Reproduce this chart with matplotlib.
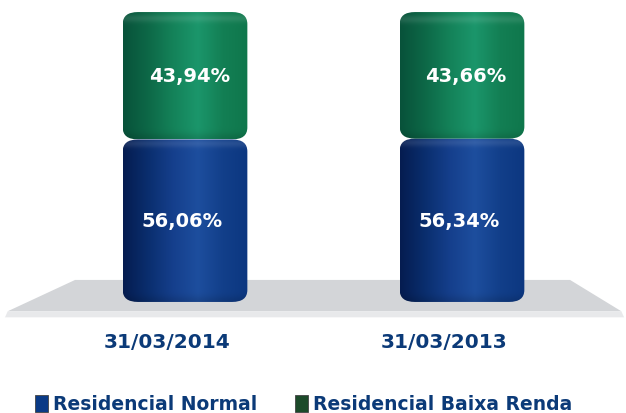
import numpy as np
import matplotlib
matplotlib.use("Agg")
import matplotlib.pyplot as plt
from matplotlib.patches import FancyBboxPatch, Polygon, Rectangle
from matplotlib.colors import LinearSegmentedColormap

# data
dates = ["31/03/2014", "31/03/2013"]
normal = [56.06, 56.34]
baixa = [43.94, 43.66]
series_names = ["Residencial Normal", "Residencial Baixa Renda"]

W, H = 626, 414
fig = plt.figure(figsize=(W / 100, H / 100), dpi=100)
ax = fig.add_axes([0, 0, 1, 1])
ax.set_xlim(-0.668, 1.592)
ax.set_ylim(-38.3, 104.5)
ax.axis("off")

# floor (top face + thin front edge)
floor = Polygon([(-0.397, 7.6), (1.39, 7.6), (1.575, -3.2), (-0.640, -3.2)],
                closed=True, facecolor="#D3D5D8", edgecolor="none", zorder=1)
ax.add_patch(floor)
front = Polygon([(-0.640, -3.2), (1.575, -3.2), (1.585, -5.3), (-0.650, -5.3)],
                closed=True, facecolor="#E8E9EB", edgecolor="none", zorder=1)
ax.add_patch(front)

blue_cmap = LinearSegmentedColormap.from_list(
    "b", ["#051C50", "#0A2E6E", "#153F8C", "#1D4E9E", "#123F8A", "#0C3780"])
green_cmap = LinearSegmentedColormap.from_list(
    "g", ["#08523A", "#0D6847", "#148259", "#1B966B", "#137F54", "#0F774C"])

width = 0.45
x = np.arange(len(dates))
bars_n = ax.bar(x, normal, width, color="none", zorder=2)
bars_b = ax.bar(x, baixa, width, bottom=normal, color="none", zorder=2)

ny, nx = 200, 256
u = np.linspace(0, 1, nx)


def shaded(cmap, h, dome):
    rgb = cmap(u)[:, :3][None, :, :].repeat(ny, axis=0)
    # distance from top of the segment in pixels (2.9 px per unit)
    d = np.linspace(0, h * 2.9, ny)[:, None]
    light = 0.10 * np.exp(-((d - (7 if dome else 4)) / 4.0) ** 2)
    dark = 0.12 * np.exp(-((d - h * 2.9) / 6.0) ** 2)
    rgb = rgb + light[..., None] * (1 - rgb) - dark[..., None] * rgb
    return np.clip(rgb, 0, 1)


for bars, cmap, dome, dx in [(bars_n, blue_cmap, False, -0.01),
                             (bars_b, green_cmap, True, 0.015)]:
    for r in bars:
        x0, y0, w, h = r.get_x(), r.get_y(), r.get_width(), r.get_height()
        patch = FancyBboxPatch((x0, y0), w, h,
                               boxstyle="round,pad=0,rounding_size=0.055",
                               mutation_aspect=75, facecolor="none",
                               edgecolor="none", zorder=3)
        ax.add_patch(patch)
        im = ax.imshow(shaded(cmap, h, dome), aspect="auto", origin="upper",
                       extent=(x0, x0 + w, y0, y0 + h), zorder=3,
                       interpolation="bilinear")
        im.set_clip_path(patch)
        ax.text(x0 + w / 2 + dx, y0 + h / 2, f"{h:.2f}%".replace(".", ","),
                ha="center", va="center", color="white", fontsize=14,
                fontweight="bold", zorder=5)

for xi, d in zip(x, dates):
    ax.text(xi - 0.065, -13.5, d, ha="center", va="center", color="#0B3A78",
            fontsize=14.5, fontweight="bold")

# legend along the bottom
leg_cols = ["#0A3A86", "#1C4A2A"]
leg_x = [35, 295]
for lx, col, name in zip(leg_x, leg_cols, series_names):
    fig.patches.append(Rectangle((lx / W, 1 - 413 / H), 13 / W, 17 / H,
                                 transform=fig.transFigure, facecolor=col,
                                 edgecolor="#444444", linewidth=0.6))
    fig.text((lx + 18) / W, 1 - 405 / H, name, ha="left", va="center",
             color="#0B3A78", fontsize=13.5, fontweight="bold")

fig.savefig("out.png", dpi=100)
